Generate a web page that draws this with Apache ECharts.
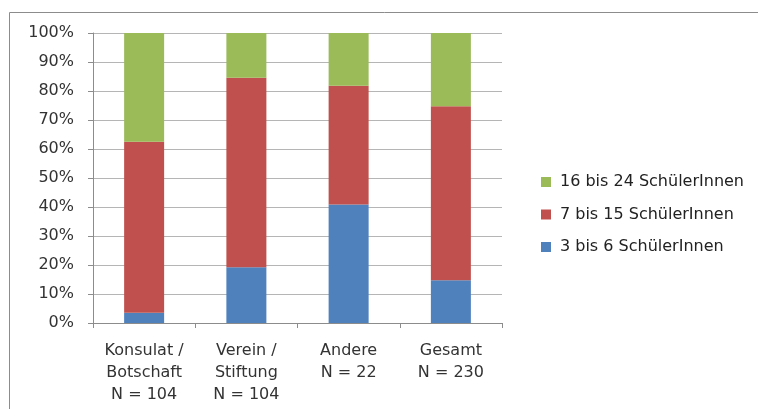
<!DOCTYPE html>
<html>
<head>
<meta charset="utf-8">
<script src="https://cdn.jsdelivr.net/npm/echarts@6/dist/echarts.min.js"></script>
<style>
  html, body { margin: 0; padding: 0; background: #fff; }
  #chart { width: 758px; height: 409px; }
</style>
</head>
<body>
<div id="chart"></div>
<script>
// categories and stacked shares (percent)
var categories = ["Konsulat /\nBotschaft\nN = 104", "Verein /\nStiftung\nN = 104", "Andere\nN = 22", "Gesamt\nN = 230"];
var small = [3.5, 19.2, 40.9, 14.7];    // 3 bis 6
var medium = [59.0, 65.4, 40.9, 60.0];  // 7 bis 15
var large = [37.5, 15.4, 18.2, 25.3];   // 16 bis 24
var seriesNames = ["3 bis 6 SchülerInnen", "7 bis 15 SchülerInnen", "16 bis 24 SchülerInnen"];
var yTicks = [0, 10, 20, 30, 40, 50, 60, 70, 80, 90, 100];

var font = "'DejaVu Sans', sans-serif";
var chart = echarts.init(document.getElementById("chart"));

var option = {
  animation: false,
  color: ["#4F81BD", "#C0504D", "#9BBB59"],
  graphic: [{
    type: "rect",
    shape: { x: 9.5, y: 12.5, width: 900, height: 500 },
    style: { fill: null, stroke: "#8c8c8c", lineWidth: 1 }
  }],
  grid: { left: 93, right: 256, top: 33, bottom: 86 },
  legend: {
    orient: "vertical",
    left: 536,
    top: 169,
    itemWidth: 10,
    itemHeight: 10,
    itemGap: 16.5,
    icon: "rect",
    data: [seriesNames[2], seriesNames[1], seriesNames[0]],
    textStyle: { fontFamily: font, fontSize: 16, lineHeight: 16, color: "#222", padding: [0, 0, 0, 4] }
  },
  xAxis: {
    type: "category",
    data: categories,
    axisLine: { lineStyle: { color: "#8c8c8c" } },
    axisTick: { show: true, interval: 0, length: 5, lineStyle: { color: "#8c8c8c" } },
    axisLabel: {
      interval: 0,
      fontFamily: font, fontSize: 16, color: "#333", lineHeight: 22, margin: 17
    }
  },
  yAxis: {
    type: "value",
    min: 0,
    max: 100,
    interval: 10,
    axisLine: { show: true, lineStyle: { color: "#8c8c8c" } },
    axisTick: { show: true, length: 5, lineStyle: { color: "#8c8c8c" } },
    splitLine: { lineStyle: { color: "#b5b5b5", width: 1 } },
    axisLabel: {
      fontFamily: font, fontSize: 16, color: "#333", margin: 19,
      formatter: function (v) { return yTicks.indexOf(v) >= 0 ? v + "%" : ""; }
    }
  },
  series: [
    { name: seriesNames[0], type: "bar", stack: "s", data: small, barWidth: 40 },
    { name: seriesNames[1], type: "bar", stack: "s", data: medium, barWidth: 40 },
    { name: seriesNames[2], type: "bar", stack: "s", data: large, barWidth: 40 }
  ]
};
chart.setOption(option);
</script>
</body>
</html>
